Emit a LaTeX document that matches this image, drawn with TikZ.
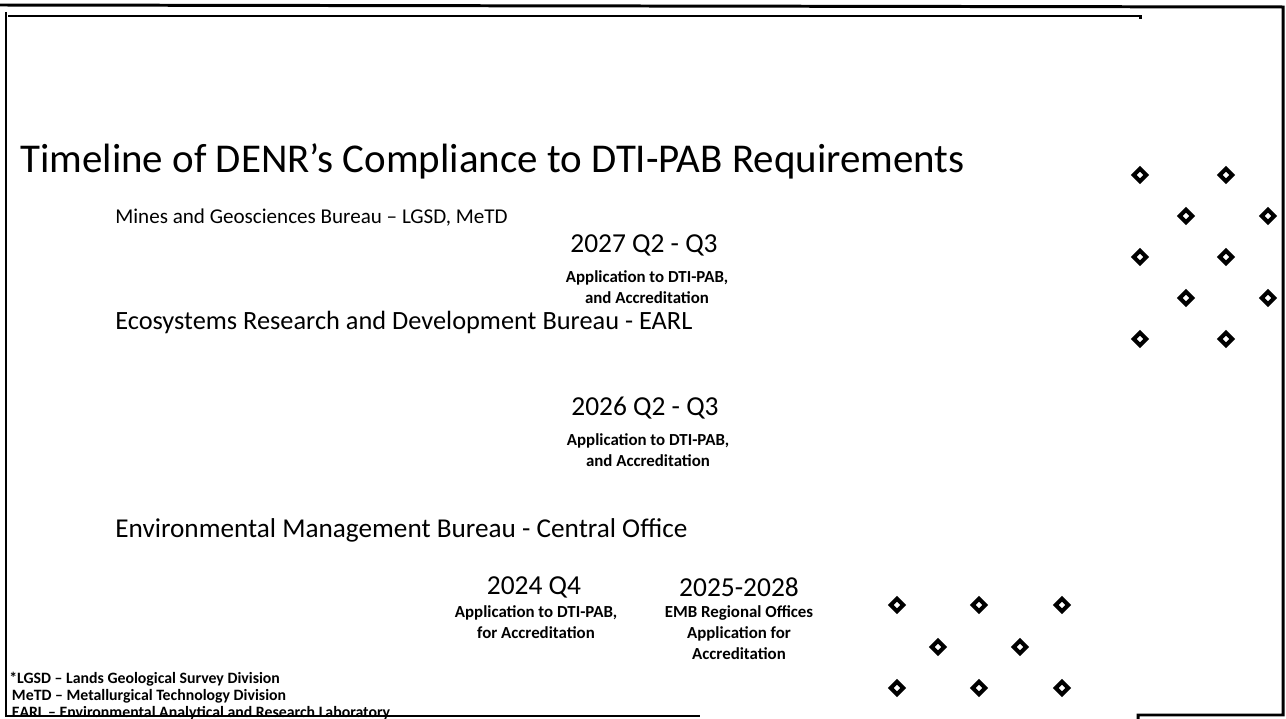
\documentclass[tikz,border=0pt]{standalone}
\usepackage{fontspec}
\setmainfont{Carlito}
\usetikzlibrary{shapes.geometric}

\tikzset{
  frameline/.style={line width=1.7pt},
  title/.style={anchor=west, inner sep=0pt, font=\fontsize{23.3}{27}\selectfont},
  bureau/.style={anchor=west, inner sep=0pt, font=\fontsize{15}{18}\selectfont},
  year/.style={inner sep=0pt, font=\fontsize{15.6}{18}\selectfont},
  detail/.style={anchor=north, inner sep=0pt, align=center, font=\bfseries\fontsize{9.6}{12}\selectfont},
  footnote/.style={anchor=north west, inner sep=0pt, align=left, font=\bfseries\fontsize{9}{9.6}\selectfont},
  dmd/.style={diamond, draw, line width=2.3pt, minimum size=8pt, inner sep=0pt}
}

\begin{document}
\begin{tikzpicture}[x=0.02cm, y=-0.02cm]
  \useasboundingbox (0,0) rectangle (1286,719);

  % scanned frame
  \draw[frameline] (0,5) -- (1283,7) -- (1283,715) -- (1138,715) -- (1138,719);
  \draw[frameline] (8,16) -- (1140,16) -- (1140,19);
  \draw[frameline] (6,12) -- (6,716) -- (700,716);

  % title
  \node[title] (ttl) at (20,161) {Timeline of DENR’s Compliance to DTI-PAB Requirements};

  % MGB
  \node[bureau, font=\fontsize{12}{14}\selectfont] (mgb) at (115,218) {Mines and Geosciences Bureau – LGSD, MeTD};
  \node[year] (mgbyr) at (644,245) {2027 Q2 - Q3};
  \node[detail] (mgbtx) at (647,270) {Application to DTI-PAB,\\and Accreditation};

  % ERDB
  \node[bureau] (erdb) at (115,322) {Ecosystems Research and Development Bureau - EARL};
  \node[year] (erdbyr) at (645,408) {2026 Q2 - Q3};
  \node[detail] (erdbtx) at (648,433) {Application to DTI-PAB,\\and Accreditation};

  % EMB
  \node[bureau, font=\fontsize{15.5}{18}\selectfont] (emb) at (115,530) {Environmental Management Bureau - Central Office};
  \node[year] (embyr) at (534,587) {2024 Q4};
  \node[detail] (embtx) at (536,605) {Application to DTI-PAB,\\for Accreditation};
  \node[year] (regyr) at (739,587) {2025-2028};
  \node[detail] (regtx) at (739,605) {EMB Regional Offices\\Application for\\Accreditation};

  % abbreviations
  \node[footnote] (abbr) at (9,672) {*LGSD – Lands Geological Survey Division\\
    \,MeTD – Metallurgical Technology Division\\
    \,EARL – Environmental Analytical and Research Laboratory};

  % diamond pattern, top right
  \foreach \yy in {175,257,339}
    \foreach \xx in {1140,1226}
      \node[dmd] at (\xx,\yy) {};
  \foreach \yy in {216,298}
    \foreach \xx in {1186,1268}
      \node[dmd] at (\xx,\yy) {};

  % diamond pattern, bottom
  \foreach \yy in {605,688}
    \foreach \xx in {897,979,1062}
      \node[dmd] at (\xx,\yy) {};
  \foreach \xx in {938,1020}
    \node[dmd] at (\xx,647) {};
\end{tikzpicture}
\end{document}
